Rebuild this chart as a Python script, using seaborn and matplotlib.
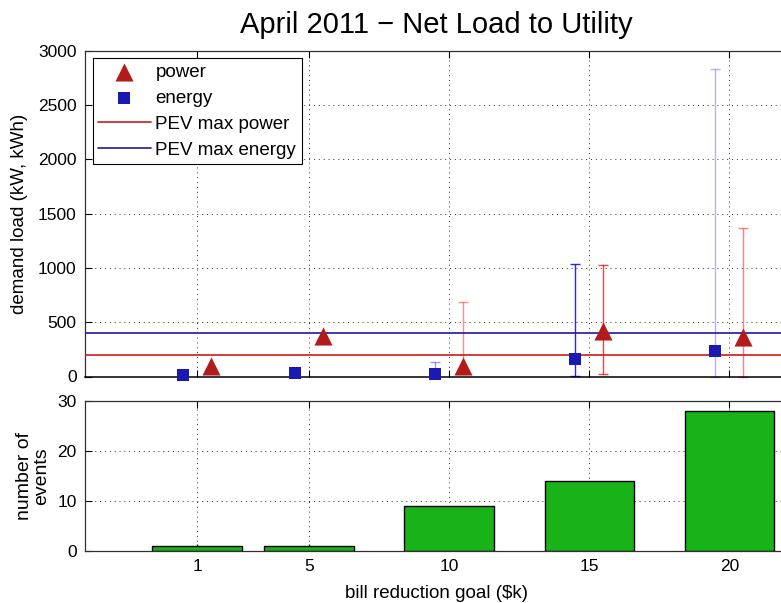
import matplotlib
matplotlib.use("Agg")
import matplotlib.pyplot as plt
import seaborn as sns
import numpy as np
import pandas as pd

# ---- data ----
goals = [1, 5, 10, 15, 20]
power_mean = [95, 370, 100, 415, 365]
power_low = [95, 370, 22, 22, 0]
power_high = [95, 370, 690, 1030, 1370]
energy_mean = [12, 35, 27, 157, 234]
energy_low = [12, 35, 0, 6, 0]
energy_high = [12, 35, 134, 1040, 2836]
events = [1, 1, 9, 14, 28]
pev_max_power = 200
pev_max_energy = 400
title = "April 2011 \u2212 Net Load to Utility"

# ---- styles ----
power_err_alpha = [1, 1, 0.45, 0.75, 0.5]
energy_err_alpha = [1, 1, 0.4, 0.85, 0.3]

sns.set_theme(style="white")
plt.rcParams['font.family'] = ['Liberation Sans', 'DejaVu Sans']
plt.rcParams['axes.unicode_minus'] = True
plt.rcParams['text.color'] = 'black'
plt.rcParams['axes.labelcolor'] = 'black'
plt.rcParams['xtick.color'] = 'black'
plt.rcParams['ytick.color'] = 'black'

fig = plt.figure(figsize=(7.81, 6.03), dpi=100)
L, W = 85 / 781, 703 / 781
ax = fig.add_axes([L, 1 - 376.5 / 603, W, (376.5 - 50.7) / 603])
ax2 = fig.add_axes([L, 1 - 550.7 / 603, W, 150 / 603])

xlim = (-3.0, 22.09)
grid_kw = dict(color='#303030', linestyle=(0, (1, 4)), linewidth=0.7)

df = pd.DataFrame({'goal': goals, 'power': power_mean, 'energy': energy_mean,
                   'events': events})
xp = df['goal'] + 0.5
xe = df['goal'] - 0.5

# error bars
for i in range(len(goals)):
    if power_high[i] > power_low[i]:
        ax.errorbar([xp[i]], [power_mean[i]],
                    yerr=[[power_mean[i] - power_low[i]], [power_high[i] - power_mean[i]]],
                    fmt='none', ecolor='#ff0000', elinewidth=1, capsize=3.5,
                    capthick=1, alpha=power_err_alpha[i], zorder=2, clip_on=False)
    if energy_high[i] > energy_low[i]:
        ax.errorbar([xe[i]], [energy_mean[i]],
                    yerr=[[energy_mean[i] - energy_low[i]], [energy_high[i] - energy_mean[i]]],
                    fmt='none', ecolor='#0000ff', elinewidth=1, capsize=3.5,
                    capthick=1, alpha=energy_err_alpha[i], zorder=2, clip_on=False)

sns.scatterplot(x=xp, y=df['power'], marker='^', s=169, color='#b31a1a',
                linewidth=0, ax=ax, zorder=4, clip_on=False, label='power')
sns.scatterplot(x=xe, y=df['energy'], marker='s', s=64, color='#1a1ab3',
                linewidth=0, ax=ax, zorder=4, clip_on=False, label='energy')
ax.axhline(pev_max_power, color='#d01a1a', linewidth=1.2, zorder=3, label='PEV max power')
ax.axhline(pev_max_energy, color='#1a1aa0', linewidth=1.2, zorder=3, label='PEV max energy')

ax.set_xlim(*xlim)
ax.set_ylim(0, 3000)
ax.set_xticks(goals)
ax.set_yticks(np.arange(0, 3001, 500))
ax.grid(True, **grid_kw)
ax.set_axisbelow(True)
ax.tick_params(direction='in', top=True, right=True, bottom=True, left=True,
               length=5, width=0.8, labelbottom=False, labelsize=12.5, pad=6)
ax.set_xlabel('')
ax.set_ylabel('demand load (kW, kWh)', fontsize=13.5)
ax.yaxis.set_label_coords((20 - 85) / 703, 0.5)
ax.yaxis.label.set_va('center')
for s in ax.spines.values():
    s.set_color('#303030')
    s.set_linewidth(0.9)
ax.spines['bottom'].set_color('black')
ax.spines['bottom'].set_linewidth(1.1)
ax.set_title(title, fontsize=21, pad=13)

leg = ax.legend(loc='upper left', fontsize=13.5, frameon=True, fancybox=False,
                edgecolor='black', framealpha=1, borderaxespad=0.4,
                handlelength=2.8, handletextpad=0.25, labelspacing=0.47,
                borderpad=0.3)
leg.get_frame().set_linewidth(0.8)

# bottom bar chart
sns.barplot(data=df, x='goal', y='events', native_scale=True, color='#19b219',
            saturation=1, edgecolor='black', linewidth=1, width=0.8, ax=ax2,
            zorder=2)
ax2.set_xlim(*xlim)
ax2.set_ylim(0, 30)
ax2.set_xticks(goals)
ax2.set_xticklabels([str(g) for g in goals])
ax2.set_yticks([0, 10, 20, 30])
ax2.grid(True, **grid_kw)
ax2.set_axisbelow(True)
ax2.tick_params(direction='in', top=True, right=True, bottom=True, left=True,
                length=5, width=0.8, labelsize=12.5, pad=6)
ax2.set_xlabel('bill reduction goal ($k)', fontsize=13.5)
ax2.xaxis.set_label_coords(0.5, (550.7 - 593) / 150)
ax2.xaxis.label.set_va('center')
ax2.set_ylabel('number of\nevents', fontsize=14, linespacing=1.05,
               multialignment='center')
ax2.yaxis.set_label_coords((33 - 85) / 703, 0.5)
ax2.yaxis.label.set_va('center')
for s in ax2.spines.values():
    s.set_color('#303030')
    s.set_linewidth(0.9)

fig.savefig('out.png', dpi=100)
